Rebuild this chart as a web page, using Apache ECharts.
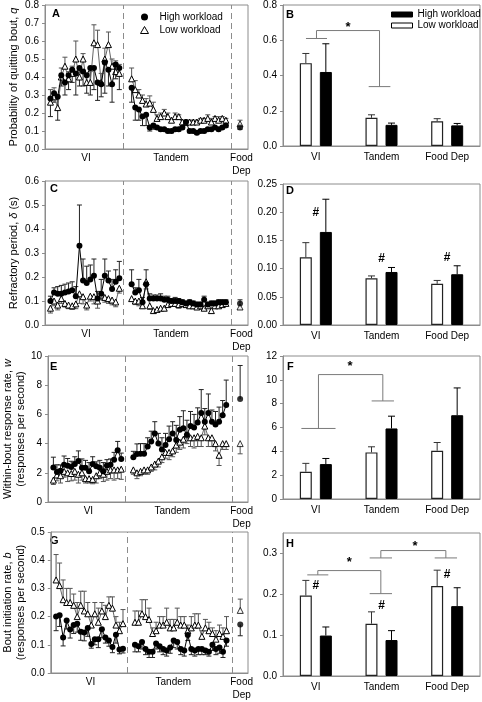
<!DOCTYPE html>
<html><head><meta charset="utf-8">
<script src="https://cdn.jsdelivr.net/npm/echarts@6/dist/echarts.min.js"></script>
<style>html,body{margin:0;padding:0;background:#fff}#c{width:482px;height:702px}</style>
</head><body><div id="c"></div>
<script>
// ================= DATA =================
const groups = ['VI', 'Tandem', 'Food Dep'];
const phaseLabels = ['VI', 'Tandem', 'Food\nDep'];

// Panel A: probability of quitting bout, q
const aHighVI = [0.28,0.31,0.29,0.41,0.37,0.41,0.44,0.42,0.45,0.43,0.41,0.45,0.45,0.37,0.36,0.48,0.44,0.36,0.47,0.45];
const aHighVIErr = [0.10,0.05,0.13,0.06,0.07,0.08,0.07,0.12,0.10,0.08,0.10,0.15,0.12,0.10,0.07,0.17,0.09,0.10,0.08,0.12];
const aLowVI = [0.26,0.29,0.23,0.40,0.46,0.39,0.42,0.50,0.40,0.50,0.37,0.37,0.59,0.58,0.37,0.50,0.58,0.46,0.43,0.42];
const aLowVIErr = [0.07,0.05,0.06,0.05,0.05,0.04,0.04,0.10,0.05,0.03,0.05,0.06,0.10,0.08,0.05,0.06,0.07,0.04,0.06,0.05];
const aHighTan = [0.34,0.23,0.22,0.18,0.19,0.12,0.13,0.12,0.11,0.11,0.10,0.10,0.11,0.11,0.12,0.15,0.10,0.10,0.09,0.10,0.10,0.11,0.11,0.12,0.11,0.12,0.13];
const aHighTanErr = [0.08,0.07,0.06,0.05,0.06,0.02,0.02,0.01,0.01,0.01,0.01,0.01,0.01,0.01,0.01,0.02,0.01,0.01,0.01,0.01,0.01,0.01,0.01,0.01,0.01,0.01,0.01];
const aLowTan = [0.39,0.33,0.30,0.27,0.25,0.255,0.22,0.17,0.18,0.20,0.18,0.16,0.18,0.18,0.15,0.15,0.15,0.15,0.15,0.16,0.16,0.17,0.15,0.17,0.16,0.17,0.16];
const aLowTanErr = [0.06,0.05,0.03,0.03,0.03,0.04,0.04,0.02,0.02,0.02,0.02,0.01,0.02,0.01,0.01,0.01,0.01,0.01,0.01,0.01,0.01,0.02,0.02,0.01,0.02,0.01,0.01];
const aHighFood = 0.12, aHighFoodErr = 0.01, aLowFood = 0.14, aLowFoodErr = 0.02;

// Panel C: refractory period
const cHighVI = [0.10,0.135,0.13,0.13,0.135,0.14,0.145,0.12,0.33,0.185,0.175,0.19,0.205,0.11,0.13,0.205,0.185,0.15,0.18,0.195];
const cHighVIErr = [0.02,0.02,0.03,0.035,0.035,0.035,0.035,0.04,0.17,0.09,0.07,0.06,0.07,0.03,0.06,0.07,0.04,0.04,0.05,0.07];
const cLowVI = [0.07,0.10,0.083,0.11,0.09,0.083,0.08,0.088,0.13,0.118,0.083,0.12,0.118,0.10,0.125,0.115,0.11,0.104,0.096,0.153];
const cLowVIErr = [0.02,0.02,0.02,0.02,0.015,0.015,0.015,0.02,0.04,0.03,0.02,0.02,0.03,0.03,0.02,0.02,0.02,0.02,0.02,0.02];
const cHighTan = [0.17,0.135,0.145,0.095,0.17,0.11,0.11,0.11,0.11,0.105,0.105,0.10,0.10,0.10,0.095,0.09,0.095,0.09,0.085,0.085,0.105,0.085,0.09,0.09,0.095,0.095,0.095];
const cHighTanErr = [0.06,0.02,0.045,0.02,0.06,0.02,0.015,0.015,0.02,0.015,0.015,0.01,0.015,0.01,0.01,0.01,0.01,0.01,0.01,0.01,0.015,0.01,0.01,0.01,0.01,0.01,0.01];
const cLowTan = [0.11,0.10,0.10,0.08,0.18,0.08,0.06,0.065,0.07,0.07,0.085,0.09,0.09,0.085,0.09,0.085,0.08,0.08,0.075,0.08,0.07,0.08,0.06,0.08,0.08,0.085,0.09];
const cLowTanErr = [0.01,0.015,0.02,0.01,0.03,0.015,0.01,0.01,0.01,0.01,0.01,0.01,0.01,0.015,0.01,0.01,0.01,0.01,0.01,0.015,0.01,0.01,0.01,0.01,0.01,0.01,0.01];
const cHighFood = 0.09, cHighFoodErr = 0.015, cLowFood = 0.075, cLowFoodErr = 0.01;

// Panel E: within-bout response rate
const eHighVI = [2.37,2.05,2.14,2.55,2.48,2.39,2.60,2.80,2.35,2.35,2.10,2.60,2.45,2.35,2.10,2.50,2.55,2.90,3.55,2.95];
const eHighVIErr = [0.7,0.5,0.4,0.6,0.5,0.4,0.5,0.7,0.6,0.5,0.6,0.5,0.3,0.5,0.6,0.4,0.4,0.5,0.6,0.4];
const eLowVI = [1.5,1.85,1.8,2.1,2.0,1.95,2.1,1.9,2.0,1.6,1.6,1.55,1.8,2.0,1.9,2.1,2.2,2.2,2.2,2.25];
const eLowVIErr = [0.3,0.4,0.5,0.4,0.6,0.5,0.6,0.6,0.5,0.3,0.3,0.3,0.5,0.4,0.5,0.6,0.6,0.7,0.6,0.7];
const eHighTan = [3.07,3.28,3.30,3.30,3.80,4.15,4.70,4.00,3.60,3.90,4.30,4.70,4.25,4.95,5.05,4.60,5.20,5.10,5.45,6.10,5.50,6.10,5.50,5.30,5.50,5.95,6.65];
const eHighTanErr = [0.4,0.7,0.7,0.7,0.6,0.7,0.8,0.7,0.8,0.8,0.9,0.8,1.0,0.9,1.2,1.0,1.0,0.9,1.0,1.6,0.9,1.3,0.8,0.9,1.0,1.0,1.7];
const eLowTan = [2.2,2.0,2.1,2.2,2.2,2.4,2.6,2.8,3.1,3.4,3.4,3.5,3.9,4.1,4.3,4.6,4.4,4.4,4.5,4.4,5.2,4.4,4.4,4.0,3.2,4.0,4.0];
const eLowTanErr = [0.3,0.4,0.3,0.3,0.3,0.3,0.4,0.4,0.4,0.4,0.5,0.4,0.5,0.5,0.6,0.6,0.6,0.7,0.7,0.6,0.6,0.6,0.6,0.5,0.7,0.4,0.4];
const eHighFood = 7.05, eHighFoodErr = 2.3, eLowFood = 4.0, eLowFoodErr = 0.7;

// Panel G: bout initiation rate
const gHighVI = [0.20,0.205,0.126,0.186,0.154,0.17,0.175,0.146,0.144,0.16,0.103,0.12,0.12,0.155,0.126,0.115,0.092,0.136,0.083,0.086];
const gHighVIErr = [0.05,0.04,0.03,0.03,0.03,0.03,0.03,0.03,0.03,0.03,0.015,0.02,0.03,0.03,0.02,0.02,0.02,0.03,0.015,0.015];
const gLowVI = [0.33,0.31,0.26,0.25,0.25,0.24,0.20,0.24,0.22,0.21,0.17,0.21,0.18,0.22,0.20,0.24,0.23,0.17,0.15,0.175];
const gLowVIErr = [0.09,0.08,0.07,0.05,0.05,0.04,0.05,0.05,0.07,0.04,0.03,0.04,0.05,0.03,0.04,0.03,0.04,0.03,0.03,0.05];
const gHighTan = [0.10,0.095,0.11,0.085,0.075,0.075,0.105,0.095,0.085,0.08,0.09,0.115,0.11,0.085,0.08,0.135,0.085,0.08,0.085,0.085,0.08,0.075,0.10,0.085,0.09,0.075,0.115];
const gHighTanErr = [0.025,0.02,0.025,0.02,0.02,0.02,0.02,0.02,0.02,0.02,0.02,0.025,0.025,0.02,0.02,0.02,0.02,0.02,0.02,0.02,0.015,0.015,0.02,0.02,0.02,0.02,0.02];
const gLowTan = [0.18,0.18,0.21,0.20,0.19,0.14,0.15,0.17,0.17,0.18,0.16,0.16,0.18,0.17,0.17,0.15,0.16,0.17,0.17,0.13,0.16,0.15,0.14,0.12,0.14,0.13,0.15];
const gLowTanErr = [0.04,0.04,0.05,0.06,0.04,0.02,0.03,0.03,0.03,0.05,0.03,0.03,0.05,0.03,0.03,0.02,0.04,0.04,0.04,0.02,0.03,0.03,0.02,0.03,0.03,0.03,0.05];
const gHighFood = 0.172, gHighFoodErr = 0.04, gLowFood = 0.222, gLowFoodErr = 0.04;

// Bar panels (VI, Tandem, Food Dep)
const bLow = [0.47,0.16,0.14], bLowErr = [0.055,0.017,0.015];
const bHigh = [0.42,0.12,0.117], bHighErr = [0.16,0.01,0.011];
const dLow = [0.12,0.083,0.073], dLowErr = [0.026,0.004,0.006];
const dHigh = [0.165,0.094,0.090], dHighErr = [0.058,0.008,0.015];
const fLow = [2.29,3.91,4.05], fLowErr = [0.70,0.47,0.69];
const fHigh = [2.93,5.92,7.03], fHighErr = [0.47,1.03,2.29];
const hLow = [0.197,0.128,0.22], hLowErr = [0.037,0.029,0.039];
const hHigh = [0.099,0.088,0.171], hHighErr = [0.021,0.023,0.045];

// Significance annotations (group index, value)
const dHashY = [0.20,0.118,0.12];
const hHashY = [0.22,0.172,0.248];
const bBrackets = [{l:0.01,lw:0.16,ly:0.61,r:0.97,rw:0.165,ry:0.337,top:0.655,star:[0.49,0.675]}];
const fBrackets = [{l:0.04,lw:0.26,ly:5.92,r:1.02,rw:0.17,ry:8.23,top:10.44,star:[0.52,11.1]}];
const hBrackets = [
  {l:0.03,lw:0.16,ly:0.2475,r:0.99,rw:0.17,ry:0.2016,top:0.258,star:[0.51,0.279]},
  {l:0.99,lw:0.17,ly:0.289,r:1.98,rw:0.17,ry:0.289,top:0.307,star:[1.51,0.318]}
];

// Session positions on the time axis
const tandemStart = 23.4, foodPos = 53.3;
const phaseBoundaries = [21.2, 51.0];
const phaseLabelPos = [10.8, 34.3, 53.7];

// ================= CHART =================
const FONT = '"Liberation Sans", Arial, sans-serif';
const GRAY = '#8c8c8c';
const chart = echarts.init(document.getElementById('c'));

const viX = aHighVI.map((_, k) => k + 1);
const tanX = aHighTan.map((_, k) => tandemStart + k);

const leftDefs = [
  {ymax:0.8, step:0.1, dec:1, name:'Probability of quitting bout, {i|q}', gap:25,
   high:[aHighVI,aHighVIErr,aHighTan,aHighTanErr,aHighFood,aHighFoodErr], low:[aLowVI,aLowVIErr,aLowTan,aLowTanErr,aLowFood,aLowFoodErr], hDir:-1},
  {ymax:0.6, step:0.1, dec:1, name:'Refractory period, {i|δ} (s)', gap:25,
   high:[cHighVI,cHighVIErr,cHighTan,cHighTanErr,cHighFood,cHighFoodErr], low:[cLowVI,cLowVIErr,cLowTan,cLowTanErr,cLowFood,cLowFoodErr], hDir:1},
  {ymax:10, step:2, dec:0, name:'Within-bout response rate, {i|w}\n(responses per second)', gap:13,
   high:[eHighVI,eHighVIErr,eHighTan,eHighTanErr,eHighFood,eHighFoodErr], low:[eLowVI,eLowVIErr,eLowTan,eLowTanErr,eLowFood,eLowFoodErr], hDir:1},
  {ymax:0.5, step:0.1, dec:1, name:'Bout initiation rate, {i|b}\n(responses per second)', gap:13,
   high:[gHighVI,gHighVIErr,gHighTan,gHighTanErr,gHighFood,gHighFoodErr], low:[gLowVI,gLowVIErr,gLowTan,gLowTanErr,gLowFood,gLowFoodErr], hDir:-1}
];
const rightDefs = [
  {ymax:0.8, step:0.2, dec:1, low:bLow, lowErr:bLowErr, high:bHigh, highErr:bHighErr, brackets:bBrackets, hash:null},
  {ymax:0.25, step:0.05, dec:2, low:dLow, lowErr:dLowErr, high:dHigh, highErr:dHighErr, brackets:[], hash:dHashY},
  {ymax:12, step:2, dec:0, low:fLow, lowErr:fLowErr, high:fHigh, highErr:fHighErr, brackets:fBrackets, hash:null},
  {ymax:0.35, step:0.1, dec:1, low:hLow, lowErr:hLowErr, high:hHigh, highErr:hHighErr, brackets:hBrackets, hash:hHashY}
];
const leftBoxes = [[4,145],[181,144],[356,146],[532,145]];
const rightBoxes = [[4,142],[184,141],[356,143],[533,143]];

const grid = [], xAxis = [], yAxis = [], series = [];
const txt = {color:'#000', fontFamily:FONT, fontSize:10};

leftBoxes.forEach(b => grid.push({left:45, width:203, top:b[0], height:b[1], show:true, borderColor:GRAY, borderWidth:1}));
rightBoxes.forEach(b => grid.push({left:283, width:197, top:b[0], height:b[1], show:true, borderColor:GRAY, borderWidth:1}));

function yAx(i, d, extra) {
  return Object.assign({type:'value', gridIndex:i, min:0, max:d.ymax, interval:d.step,
    axisLine:{show:true, onZero:false, lineStyle:{color:GRAY}}, axisTick:{show:true, length:3, lineStyle:{color:GRAY}},
    splitLine:{show:false},
    axisLabel:Object.assign({}, txt, {margin:6, formatter:v => Number(v).toFixed(d.dec)})}, extra || {});
}

function errRender(offset, capHalf, color) {
  return function (params, api) {
    const x = api.value(0), y = api.value(1), e = api.value(2);
    const p0 = api.coord([x, y]), p1 = api.coord([x, y + e]);
    const cx = p0[0] + offset;
    return {type:'group', children:[
      {type:'line', shape:{x1:cx, y1:p0[1], x2:cx, y2:p1[1]}, style:{stroke:color, lineWidth:1}},
      {type:'line', shape:{x1:cx - capHalf, y1:p1[1], x2:cx + capHalf, y2:p1[1]}, style:{stroke:color, lineWidth:1}}
    ]};
  };
}

leftDefs.forEach((d, i) => {
  xAxis.push({type:'value', gridIndex:i, min:-0.5, max:55.5,
    axisLine:{show:true, onZero:false, lineStyle:{color:GRAY}}, axisTick:{show:false}, splitLine:{show:false},
    axisLabel:Object.assign({}, txt, {margin:3, lineHeight:13, customValues:phaseLabelPos,
      formatter:v => { let k = 0; phaseLabelPos.forEach((p, j) => { if (Math.abs(p - v) < Math.abs(phaseLabelPos[k] - v)) k = j; }); return phaseLabels[k]; }})});
  yAxis.push(yAx(i, d, {name:d.name, nameLocation:'middle', nameGap:d.gap,
    nameTextStyle:Object.assign({}, txt, {fontSize:11, lineHeight:13, rich:{i:{fontStyle:'italic', fontSize:11, fontFamily:FONT, color:'#000'}}})}));
  ['high', 'low'].forEach(w => {
    const v = d[w], isHigh = w === 'high';
    const dir = isHigh ? d.hDir : -d.hDir;
    const name = isHigh ? 'High workload' : 'Low workload';
    const sym = isHigh
      ? {symbol:'circle', symbolSize:6, itemStyle:{color:'#000', borderWidth:0}}
      : {symbol:'triangle', symbolSize:6, itemStyle:{color:'#fff', borderColor:'#000', borderWidth:1}};
    const lineStyle = {color:isHigh ? '#000' : '#666', width:1};
    const z = isHigh ? 4 : 3;
    const common = Object.assign({name, xAxisIndex:i, yAxisIndex:i, z, silent:true, lineStyle}, sym);
    const vi = Object.assign({type:'line', data:viX.map((x, k) => [x, v[0][k]])}, common);
    if (isHigh) vi.markLine = {silent:true, symbol:['none','none'], label:{show:false},
      lineStyle:{color:GRAY, type:[6,4], width:1}, data:phaseBoundaries.map(p => ({xAxis:p}))};
    series.push(vi);
    series.push(Object.assign({type:'line', data:tanX.map((x, k) => [x, v[2][k]])}, common));
    series.push(Object.assign({type:'scatter', data:[[foodPos, v[4]]]}, common));
    const ed = viX.map((x, k) => [x, v[0][k], dir * v[1][k]])
      .concat(tanX.map((x, k) => [x, v[2][k], dir * v[3][k]]))
      .concat([[foodPos, v[4], dir * v[5]]]);
    series.push({type:'custom', name:name + ' SE', xAxisIndex:i, yAxisIndex:i, z:2, silent:true,
      dimensions:['x','y','e'], encode:{x:0, y:1}, data:ed,
      renderItem:errRender(0, 2.5, isHigh ? '#222' : '#555')});
  });
});

rightDefs.forEach((d, j) => {
  const gi = 4 + j;
  xAxis.push({type:'category', gridIndex:gi, data:groups,
    axisLine:{show:true, onZero:false, lineStyle:{color:GRAY}}, axisTick:{show:false},
    axisLabel:Object.assign({}, txt, {margin:6})});
  yAxis.push(yAx(gi, d, j === 3 ? {axisLabel:Object.assign({}, txt, {margin:6, showMaxLabel:false, formatter:v => Number(v).toFixed(1)})} : {}));
});
rightDefs.forEach((d, j) => {
  xAxis.push({type:'value', gridIndex:4 + j, min:-0.5, max:2.5, show:false, axisLine:{onZero:false}});
});

rightDefs.forEach((d, j) => {
  const xi = 4 + j, yi = 4 + j, ai = 8 + j;
  series.push({type:'bar', name:'Low workload', xAxisIndex:xi, yAxisIndex:yi, data:d.low, barWidth:12, barGap:'67%',
    silent:true, itemStyle:{color:'#fff', borderColor:'#222', borderWidth:1.2}});
  series.push({type:'bar', name:'High workload', xAxisIndex:xi, yAxisIndex:yi, data:d.high, barWidth:12, barGap:'67%',
    silent:true, itemStyle:{color:'#000', borderColor:'#000', borderWidth:1}});
  series.push({type:'custom', name:'Low SE', xAxisIndex:ai, yAxisIndex:yi, silent:true, z:3,
    dimensions:['x','y','e'], encode:{x:0, y:1}, data:d.low.map((v, k) => [k, v, d.lowErr[k]]),
    renderItem:errRender(-10, 3.5, '#333')});
  series.push({type:'custom', name:'High SE', xAxisIndex:ai, yAxisIndex:yi, silent:true, z:3,
    dimensions:['x','y','e'], encode:{x:0, y:1}, data:d.high.map((v, k) => [k, v, d.highErr[k]]),
    renderItem:errRender(10, 3.5, '#000')});
  if (d.brackets.length) {
    const segs = [];
    d.brackets.forEach(b => {
      segs.push([b.l - b.lw, b.ly, b.l + b.lw, b.ly], [b.l, b.ly, b.l, b.top], [b.l, b.top, b.r, b.top],
                [b.r, b.top, b.r, b.ry], [b.r - b.rw, b.ry, b.r + b.rw, b.ry]);
    });
    series.push({type:'custom', name:'brackets', xAxisIndex:ai, yAxisIndex:yi, silent:true, z:5,
      dimensions:['x1','y1','x2','y2'], encode:{x:[0,2], y:[1,3]}, data:segs,
      renderItem:(p, api) => {
        const a = api.coord([api.value(0), api.value(1)]), c = api.coord([api.value(2), api.value(3)]);
        return {type:'line', shape:{x1:a[0], y1:a[1], x2:c[0], y2:c[1]}, style:{stroke:'#7a7a7a', lineWidth:1}};
      }});
    series.push({type:'custom', name:'stars', xAxisIndex:ai, yAxisIndex:yi, silent:true, z:5,
      dimensions:['x','y'], encode:{x:0, y:1}, data:d.brackets.map(b => b.star),
      renderItem:(p, api) => {
        const a = api.coord([api.value(0), api.value(1)]);
        return {type:'text', x:a[0], y:a[1], style:{text:'*', fill:'#000', font:'bold 13px ' + FONT, align:'center', verticalAlign:'middle'}};
      }});
  }
  if (d.hash) {
    series.push({type:'custom', name:'hash', xAxisIndex:ai, yAxisIndex:yi, silent:true, z:5,
      dimensions:['x','y'], encode:{x:0, y:1}, data:d.hash.map((v, k) => [k, v]),
      renderItem:(p, api) => {
        const a = api.coord([api.value(0), api.value(1)]);
        return {type:'text', x:a[0], y:a[1], style:{text:'#', fill:'#000', font:'bold 12px ' + FONT, align:'center', verticalAlign:'middle'}};
      }});
  }
});

const letters = [['A',52,8],['C',50,183],['E',50,361],['G',50,535],['B',286,9],['D',286,185],['F',287,361],['H',286,538]];

chart.setOption({
  animation:false,
  backgroundColor:'#fff',
  textStyle:{fontFamily:FONT},
  grid, xAxis, yAxis, series,
  legend:[
    {left:135, top:6, orient:'vertical', itemGap:1, itemWidth:8, itemHeight:7, selectedMode:false,
     textStyle:Object.assign({}, txt, {lineHeight:12, padding:[0,0,0,6]}),
     data:[{name:'High workload', icon:'circle', itemStyle:{color:'#000', borderWidth:0}},
           {name:'Low workload', icon:'triangle', itemStyle:{color:'#fff', borderColor:'#000', borderWidth:1}}]},
    {left:386, top:4, orient:'vertical', itemGap:0, itemWidth:21, itemHeight:5, selectedMode:false,
     textStyle:Object.assign({}, txt, {lineHeight:11}),
     data:[{name:'High workload', icon:'rect', itemStyle:{color:'#000', borderColor:'#000', borderWidth:1}},
           {name:'Low workload', icon:'rect', itemStyle:{color:'#fff', borderColor:'#000', borderWidth:1}}]}
  ],
  graphic:letters.map(l => ({type:'text', left:l[1], top:l[2], silent:true,
    style:{text:l[0], fill:'#000', font:'bold 11px ' + FONT}}))
});
</script></body></html>
